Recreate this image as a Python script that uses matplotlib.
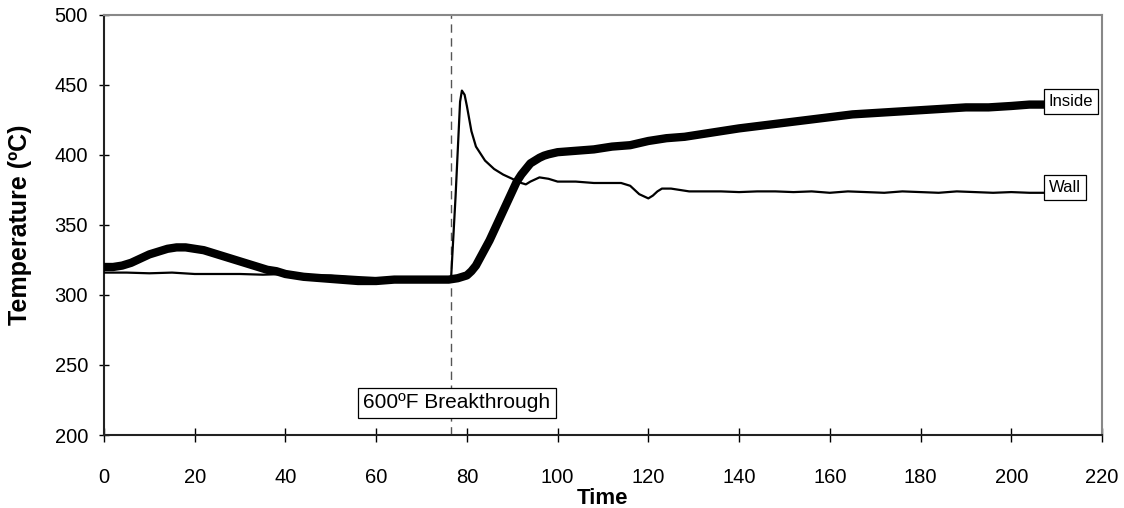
import matplotlib
matplotlib.use('Agg')
import matplotlib.pyplot as plt

plt.rcParams['font.family'] = ['Liberation Sans', 'DejaVu Sans']

# thick curve: temperature inside
inside_t = [0, 2, 4, 6, 8, 10, 12, 14, 16, 18, 20, 22, 24, 26, 28, 30, 32, 34,
            36, 38, 40, 44, 48, 52, 56, 60, 64, 68, 72, 76, 78, 79, 80, 81, 82,
            83, 84, 85, 86, 87, 88, 89, 90, 91, 92, 93, 94, 95, 96, 97, 98, 100,
            104, 108, 112, 116, 120, 124, 128, 132, 136, 140, 145, 150, 155,
            160, 165, 170, 175, 180, 185, 190, 195, 200, 204, 208]
inside_temp = [320, 320, 321, 323, 326, 329, 331, 333, 334, 334, 333, 332, 330,
               328, 326, 324, 322, 320, 318, 317, 315, 313, 312, 311, 310, 310,
               311, 311, 311, 311, 312, 313, 314, 317, 321, 327, 333, 339, 346,
               353, 360, 367, 374, 381, 386, 390, 394, 396, 398, 399.5, 400.5,
               402, 403, 404, 406, 407, 410, 412, 413, 415, 417, 419, 421, 423,
               425, 427, 429, 430, 431, 432, 433, 434, 434, 435, 436, 436]

# thin curve: wall temperature
wall_t = [0, 5, 10, 15, 20, 25, 30, 35, 40, 45, 50, 55, 60, 65, 70, 74, 76,
          76.5, 77.5, 78.5, 78.9, 79.5, 80, 81, 82, 84, 86, 88, 90, 92, 93, 94,
          96, 98, 100, 104, 108, 112, 114, 116, 118, 120, 121, 122, 123, 125,
          127, 129, 132, 136, 140, 144, 148, 152, 156, 160, 164, 168, 172, 176,
          180, 184, 188, 192, 196, 200, 204, 208]
wall_temp = [316, 316, 315.5, 316, 315, 315, 315, 314.5, 315, 314, 314, 313,
             312, 312, 312, 311, 311, 311, 370, 438, 446, 443, 435, 417, 406,
             396, 390, 386, 383, 380, 379, 381, 384, 383, 381, 381, 380, 380,
             380, 378, 372, 369, 371, 374, 376, 376, 375, 374, 374, 374, 373.5,
             374, 374, 373.5, 374, 373, 374, 373.5, 373, 374, 373.5, 373, 374,
             373.5, 373, 373.5, 373, 373]

breakthrough_t = 76.5
xticks = list(range(0, 221, 20))
yticks = list(range(200, 501, 50))

fig = plt.figure(figsize=(11.24, 5.08), dpi=100)
ax = fig.add_axes([0.0925, 0.1437, 0.8879, 0.8268])

ax.plot(inside_t, inside_temp, color='black', lw=6, solid_capstyle='round',
        solid_joinstyle='round', zorder=3)
ax.plot(wall_t, wall_temp, color='black', lw=1.6, zorder=4)
ax.axvline(breakthrough_t, color='#555555', lw=1, ls=(0, (6, 4)), zorder=2)

ax.text(breakthrough_t + 1.3, 223, '600ºF Breakthrough', ha='center',
        va='center', fontsize=15, zorder=5,
        bbox=dict(boxstyle='square,pad=0.25', fc='white', ec='black', lw=0.9))
ax.text(inside_t[-1] + 0.3, 438, 'Inside', ha='left', va='center', fontsize=12,
        zorder=5,
        bbox=dict(boxstyle='square,pad=0.3', fc='white', ec='black', lw=0.9))
ax.text(wall_t[-1] + 0.3, 377, 'Wall', ha='left', va='center', fontsize=12,
        zorder=5,
        bbox=dict(boxstyle='square,pad=0.3', fc='white', ec='black', lw=0.9))

ax.set_xlim(0, 220)
ax.set_ylim(200, 500)
ax.set_xticks(xticks)
ax.set_yticks(yticks)
ax.tick_params(axis='x', direction='inout', length=10, width=1, pad=19,
               labelsize=14.5)
ax.tick_params(axis='y', direction='inout', length=7, width=1, pad=8,
               labelsize=14.5)

for side in ['left', 'bottom']:
    ax.spines[side].set_color('#222222')
    ax.spines[side].set_linewidth(1.5)
for side in ['top', 'right']:
    ax.spines[side].set_color('#888888')
    ax.spines[side].set_linewidth(1.5)

ax.set_xlabel('Time', fontsize=16, fontweight='bold')
ax.set_ylabel('Temperature (ºC)', fontsize=18, fontweight='bold')
ax.xaxis.set_label_coords(0.5, -0.125)
ax.yaxis.set_label_coords(-0.072, 0.5)

fig.savefig('out.png', dpi=100)
